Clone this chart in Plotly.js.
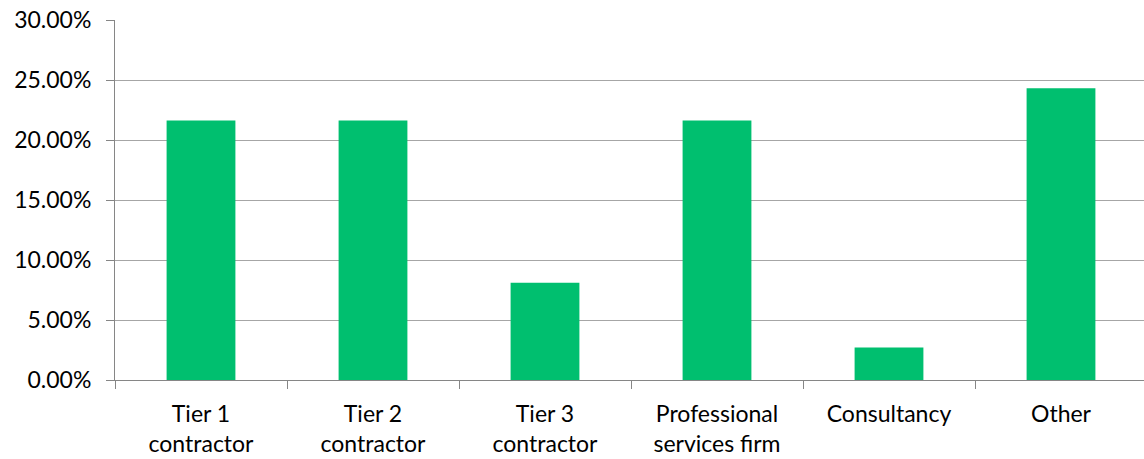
<!DOCTYPE html>
<html>
<head>
<meta charset="utf-8">
<script src="https://cdn.plot.ly/plotly-3.0.1.min.js"></script>
<style>
  html, body { margin: 0; padding: 0; background: #fff; overflow: hidden; }
  #chart { width: 1147px; height: 459px; }
</style>
</head>
<body>
<div id="chart"></div>
<script>
// Respondent organisation type, share of responses
const categories = [
  "Tier 1<br>contractor",
  "Tier 2<br>contractor",
  "Tier 3<br>contractor",
  "Professional<br>services firm",
  "Consultancy",
  "Other"
];
const shares = [0.2162, 0.2162, 0.0811, 0.2162, 0.0270, 0.2432];
const yTicks = [0, 0.05, 0.10, 0.15, 0.20, 0.25, 0.30];

const barColor = "#00BF6F";
const fontFamily = "Lato, 'Open Sans', sans-serif";

const trace = {
  type: "bar",
  x: categories,
  y: shares,
  marker: { color: barColor, line: { width: 0 } },
  hoverinfo: "skip"
};

const layout = {
  width: 1147,
  height: 459,
  margin: { l: 115, r: 0, t: 20, b: 79 },
  paper_bgcolor: "#ffffff",
  plot_bgcolor: "#ffffff",
  bargap: 0.6,
  showlegend: false,
  font: { family: fontFamily, size: 23, color: "#000000" },
  xaxis: {
    type: "category",
    tickson: "boundaries",
    ticks: "outside",
    ticklen: 8,
    tickcolor: "#868686",
    showline: true,
    linecolor: "#868686",
    linewidth: 1,
    showgrid: false,
    ticklabelstandoff: 13,
    tickfont: { family: fontFamily, size: 23, color: "#000000" }
  },
  yaxis: {
    range: [0, 0.30],
    tickvals: yTicks,
    tickformat: ".2%",
    ticks: "outside",
    ticklen: 8,
    tickcolor: "#868686",
    showline: true,
    linecolor: "#868686",
    linewidth: 1,
    showgrid: true,
    gridcolor: "#A6A6A6",
    gridwidth: 1,
    zeroline: false,
    ticklabelstandoff: 10,
    tickfont: { family: fontFamily, size: 23, color: "#000000" }
  }
};

Plotly.newPlot("chart", [trace], layout, { displayModeBar: false, staticPlot: true });
</script>
</body>
</html>
